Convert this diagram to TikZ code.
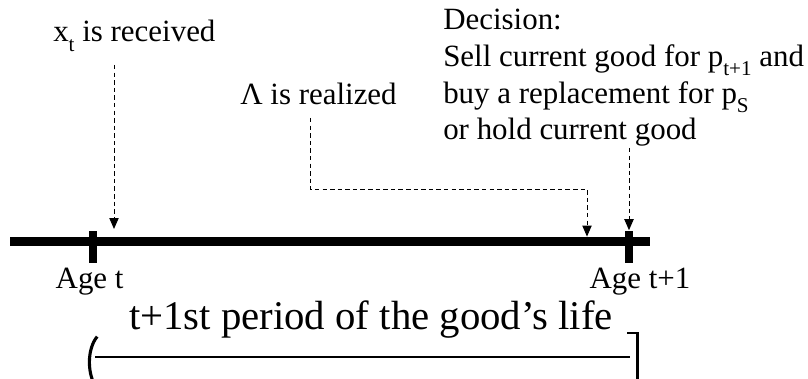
\documentclass[tikz,border=0pt]{standalone}
\usepackage{fontspec}
\setmainfont{Liberation Serif}
\usepackage{tikz}
\usetikzlibrary{positioning, arrows.meta, calc}
\newcommand{\lowsub}[1]{\raisebox{-0.3em}{\fontsize{15}{15}\selectfont #1}}

\begin{document}
\begin{tikzpicture}[
    lbl/.style={inner sep=0pt, anchor=base west, align=left, font=\fontsize{22}{26.3}\selectfont},
    agelbl/.style={inner sep=0pt, anchor=base, font=\fontsize{22}{26}\selectfont},
    timeline/.style={line width=6.4pt},
    tick/.style={line width=5.7pt},
    event/.style={-{Triangle[length=7.8pt, width=6.6pt]}, dashed, dash pattern=on 3.2pt off 2.2pt, line width=0.7pt}
]
\useasboundingbox (0,0) rectangle (20.2,9.475);

% --- TIME LINE ---
\coordinate (start) at (0.25,3.4375);
\coordinate (stop) at (16.25,3.4375);
\draw[timeline] (start) -- (stop);

\coordinate (aget) at (2.325,3.4375);
\coordinate (agetone) at (15.725,3.4375);
\draw[tick] ($(aget)+(0,0.26)$) -- ($(aget)+(0,-0.54)$);
\draw[tick] ($(agetone)+(0,0.26)$) -- ($(agetone)+(0,-0.54)$);

\node[agelbl] (lblaget) at (2.24,2.25) {Age t};
\node[agelbl] (lblagetone) at (16.0,2.27) {Age t+1};

% --- EVENTS ---
\node[lbl] (xt) at (1.325,8.425) {x\lowsub{t} is received};
\node[lbl] (lambda) at (6.0,6.85) {Λ is realized};
\node[lbl] (decision) at (11.075,5.975) {Decision:\\
    Sell current good for p\lowsub{t+1} and\\
    buy a replacement for p\lowsub{S}\\
    or hold current good};

\coordinate (xtfrom) at (2.85,7.85);
\coordinate (xtto) at (2.85,3.75);
\coordinate (lambdafrom) at (7.75,6.525);
\coordinate (lambdato) at (14.675,3.56);
\coordinate (decfrom) at (15.725,5.775);
\coordinate (decto) at (15.725,3.72);

\draw[event] (xtfrom) -- (xtto);
\draw[event] (lambdafrom) |- (14.675,4.75) -- (lambdato);
\draw[event] (decfrom) -- (decto);

% --- PERIOD BRACKET ---
\node[inner sep=0pt, anchor=base, font=\fontsize{29}{33}\selectfont] (period) at (9.275,1.225) {t+1st period of the good’s life};
\coordinate (pleft) at (2.375,0.55);
\coordinate (pright) at (15.75,0.55);
\draw[line width=0.8pt] (pleft) -- (pright);
\draw[line width=2.2pt] (2.43,1.06) .. controls (2.17,0.75) and (2.17,0.1) .. (2.43,-0.25);
\draw[line width=1.2pt] (15.675,1.15) -- (15.96,1.15);
\draw[line width=2.4pt] (15.94,1.17) -- (15.94,-0.1);
\end{tikzpicture}
\end{document}
